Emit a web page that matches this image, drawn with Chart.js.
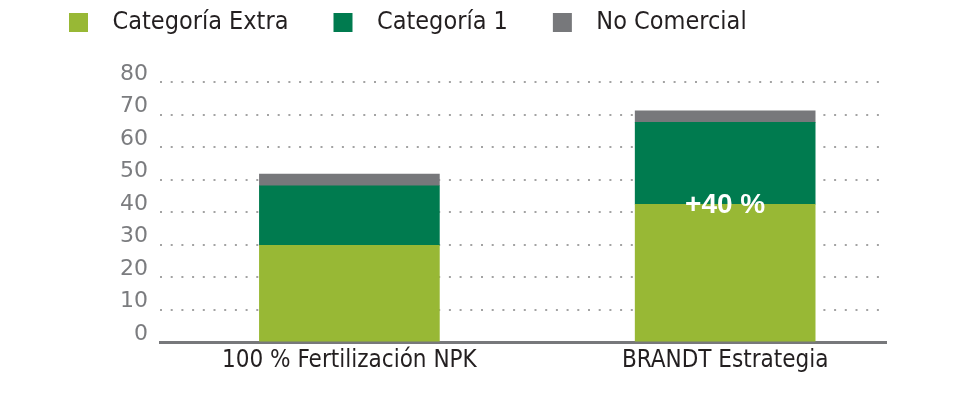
<!DOCTYPE html>
<html>
<head>
<meta charset="utf-8">
<script src="https://cdn.jsdelivr.net/npm/chart.js"></script>
<style>
  html, body { margin: 0; padding: 0; background: #fff; }
  #wrap { width: 980px; height: 403px; position: relative; }
</style>
</head>
<body>
<div id="wrap"><canvas id="chart"></canvas></div>
<script>
// data
const categories = ['100 % Fertilización NPK', 'BRANDT Estrategia'];
const seriesNames = ['Categoría Extra', 'Categoría 1', 'No Comercial'];
const extra = [29.8, 42.4];
const cat1 = [18.3, 25.2];
const noCom = [3.6, 3.5];
const yMax = 80, yStep = 10;
const badgeText = '+40 %';

const LIME = '#98b835', GREEN = '#007b4f', GREY = '#77787b';
const TEXT = '#231f20';
const COND = "'DejaVu Sans Condensed', 'DejaVu Sans', sans-serif";

// legend marker: square with blank space before it (spacing between items)
const LEAD = 42;
function legendMark(color){
  const c = document.createElement('canvas');
  c.width = LEAD + 19 + 12; c.height = 19;
  const g = c.getContext('2d');
  g.fillStyle = color; g.fillRect(LEAD, 0, 19, 19);
  return c;
}

const toPts = arr => arr.map((v, i) => ({ x: i, y: v }));

const badge = {
  id: 'badge',
  afterDatasetsDraw(chart){
    const { ctx, scales: { x, y } } = chart;
    ctx.save();
    ctx.font = "bold 28px 'Liberation Sans', Arial, sans-serif";
    ctx.fillStyle = '#fff';
    ctx.textAlign = 'center';
    ctx.textBaseline = 'middle';
    ctx.fillText(badgeText, x.getPixelForValue(1), y.getPixelForValue(extra[1]) + 1);
    ctx.restore();
  }
};

new Chart(document.getElementById('chart'), {
  type: 'bar',
  data: {
    datasets: [
      { label: seriesNames[0], data: toPts(extra), backgroundColor: LIME, pointStyle: legendMark(LIME) },
      { label: seriesNames[1], data: toPts(cat1), backgroundColor: GREEN, pointStyle: legendMark(GREEN) },
      { label: seriesNames[2], data: toPts(noCom), backgroundColor: GREY, pointStyle: legendMark(GREY) }
    ]
  },
  options: {
    responsive: true,
    maintainAspectRatio: false,
    animation: false,
    barThickness: 180,
    layout: { padding: { top: 7, left: 24, right: 94, bottom: 24 } },
    plugins: {
      legend: {
        align: 'start',
        labels: {
          usePointStyle: true,
          pointStyleWidth: LEAD + 19 + 12,
          padding: 3,
          color: TEXT,
          font: { family: COND, size: 25 }
        }
      },
      // empty spacer between legend and plot
      title: { display: true, text: '', weight: 500, padding: 0, font: { size: 37, lineHeight: 1 } },
      tooltip: { enabled: false }
    },
    scales: {
      x: {
        type: 'linear',
        stacked: true,
        offset: false,
        min: -0.504,
        max: 1.428,
        afterBuildTicks: s => { s.ticks = categories.map((_, i) => ({ value: i })); },
        ticks: {
          callback: v => categories[v],
          color: TEXT,
          padding: 4,
          maxRotation: 0,
          autoSkip: false,
          font: { family: COND, size: 24 }
        },
        grid: { display: false, drawTicks: false },
        border: { display: true, color: GREY, width: 3 }
      },
      y: {
        stacked: true,
        min: 0,
        max: yMax,
        afterFit: s => { s.width = 136; },
        ticks: {
          stepSize: yStep,
          color: '#7b7c7f',
          padding: 12,
          labelOffset: -8,
          font: { family: "'DejaVu Sans', sans-serif", size: 22 }
        },
        grid: { color: '#a3a3a3', lineWidth: 2, drawTicks: false },
        border: { display: false, dash: [2, 8.7] }
      }
    }
  },
  plugins: [badge]
});
</script>
</body>
</html>
